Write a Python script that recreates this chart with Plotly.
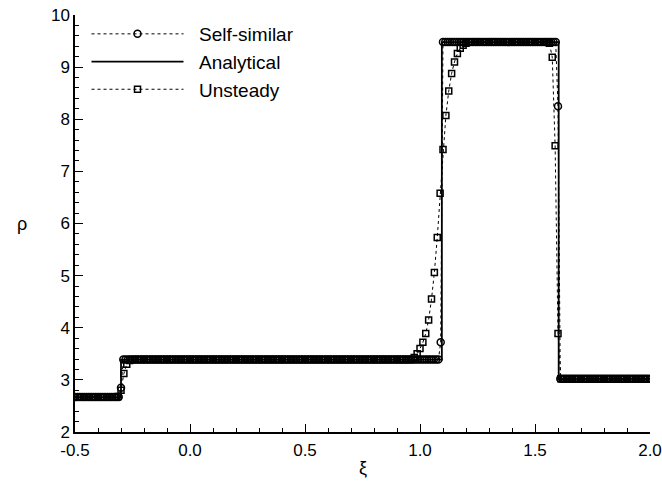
import numpy as np
import plotly.graph_objects as go

# ---- Self-similar solution (grid spacing 0.01) ----
xi_ss = np.round(np.arange(-0.5, 2.0 + 1e-9, 0.01), 4)
rho_ss = ([2.67] * 20 + [2.85] + [3.39] * 138 + [3.72] + [9.48] * 50 + [8.25] + [3.02] * 40)

# ---- Unsteady solution (grid spacing 0.0125) ----
xi_un = np.round(np.arange(-0.5, 2.0 + 1e-9, 0.0125), 5)
rho_un = ([2.67] * 15
          + [2.68, 2.80, 3.12, 3.30, 3.37]
          + [3.39] * 98
          + [3.43, 3.50, 3.60, 3.72, 3.89, 4.15, 4.55, 5.06, 5.73, 6.58,
             7.42, 8.07, 8.54, 8.88, 9.10, 9.26, 9.36, 9.42, 9.46]
          + [9.48] * 28
          + [9.46]
          + [9.19, 7.49, 3.89]
          + [3.02] * 32)

# ---- Analytical solution (piecewise constant) ----
xi_an = [-0.5, -0.3, -0.3, 1.095, 1.095, 1.603, 1.603, 2.0]
rho_an = [2.67, 2.67, 3.39, 3.39, 9.48, 9.48, 3.02, 3.02]

x_ticks = [-0.5, 0.0, 0.5, 1.0, 1.5, 2.0]
x_ticklabels = ["-0.5", "0.0", "0.5", "1.0", "1.5", "2.0"]
y_ticks = [2, 3, 4, 5, 6, 7, 8, 9, 10]

FONT = "Liberation Sans, Arial, Helvetica, sans-serif"
PAD = "\u00a0\u00a0"

fig = go.Figure()
fig.add_trace(go.Scatter(
    x=xi_ss, y=rho_ss, name=PAD + "Self-similar", mode="lines+markers",
    line=dict(color="black", width=1, dash="dot"),
    marker=dict(symbol="circle-open", size=7, color="black", line=dict(width=1.5, color="black")),
))
fig.add_trace(go.Scatter(
    x=xi_an, y=rho_an, name=PAD + "Analytical", mode="lines",
    line=dict(color="black", width=1.8),
))
fig.add_trace(go.Scatter(
    x=xi_un, y=rho_un, name=PAD + "Unsteady", mode="lines+markers",
    line=dict(color="black", width=1, dash="dot"),
    marker=dict(symbol="square-open", size=6, color="black", line=dict(width=1.5, color="black")),
))

fig.update_layout(
    width=662, height=482,
    margin=dict(l=75, r=12, t=15, b=50),
    paper_bgcolor="white", plot_bgcolor="white",
    font=dict(family=FONT, size=17, color="black"),
    showlegend=True,
    legend=dict(x=0.02, y=1.0, xanchor="left", yanchor="top",
                bgcolor="rgba(0,0,0,0)", borderwidth=0,
                font=dict(size=19), itemwidth=92, tracegroupgap=0),
    xaxis=dict(range=[-0.5, 2.0], tickmode="array", tickvals=x_ticks, ticktext=x_ticklabels,
               showgrid=False, zeroline=False, showline=True, linecolor="black", linewidth=1.5,
               ticks="inside", ticklen=8, tickwidth=1, tickcolor="black",
               minor=dict(dtick=0.1, ticks="inside", ticklen=4, tickcolor="black", showgrid=False),
               mirror=False, tickfont=dict(size=17), automargin=False, ticklabelstandoff=2),
    yaxis=dict(range=[2, 10], tickmode="array", tickvals=y_ticks,
               showgrid=False, zeroline=False, showline=True, linecolor="black", linewidth=1.5,
               ticks="inside", ticklen=8, tickwidth=1, tickcolor="black",
               minor=dict(dtick=0.2, ticks="inside", ticklen=4, tickcolor="black", showgrid=False),
               mirror=False, tickfont=dict(size=17), automargin=False),
    annotations=[
        dict(text="ξ", x=0.5, y=-0.058, xref="paper", yref="paper", showarrow=False,
             xanchor="center", yanchor="top", font=dict(size=18)),
        dict(text="ρ", x=-0.093, y=0.5, xref="paper", yref="paper", showarrow=False,
             xanchor="center", yanchor="middle", font=dict(size=18)),
    ],
)

fig.write_html("out.html", config={"displayModeBar": False},
               post_script="document.body.style.margin='0';")
